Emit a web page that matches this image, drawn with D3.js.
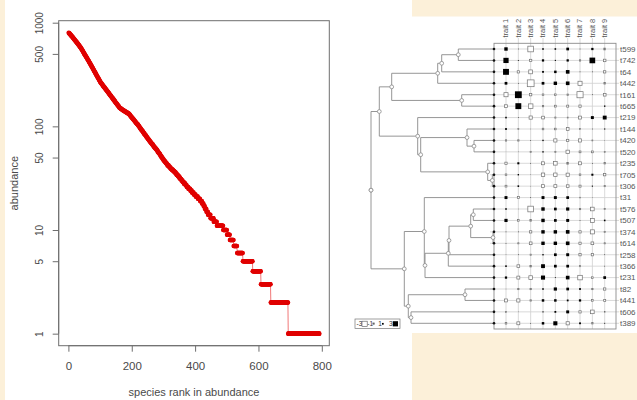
<!DOCTYPE html>
<html><head><meta charset="utf-8">
<script src="https://cdn.jsdelivr.net/npm/d3@7/dist/d3.min.js"></script>
<style>
html,body{margin:0;padding:0;background:#fff;}
svg{display:block;font-family:"Liberation Sans",Arial,sans-serif;}
</style></head>
<body><svg id="c" width="637" height="400"></svg>
<script>
// ---------------- DATA ----------------
// rank-abundance: abundances for the most common species (rank 1..401)
const abundanceTop = [
800,794,788,781,775,769,763,757,750,744,
738,732,726,719,713,707,701,695,688,682,
676,670,665,659,653,648,642,636,630,625,
619,613,607,601,595,590,584,578,572,566,
560,554,547,541,535,528,522,516,510,503,
497,491,486,480,475,469,464,458,453,447,
442,437,432,427,422,416,411,406,401,396,
391,386,382,377,372,368,363,358,353,349,
344,340,336,332,328,324,319,315,311,307,
303,299,296,292,289,285,281,278,274,271,
267,265,262,260,257,255,253,250,248,245,
243,241,239,237,235,232,230,228,226,224,
222,220,218,216,214,212,210,208,206,204,
202,200,198,197,195,193,191,189,188,186,
184,182,181,179,177,176,174,172,170,169,
167,166,164,163,161,160,158,157,155,154,
152,151,150,150,149,148,147,146,146,145,
144,143,143,142,142,141,140,140,139,139,
138,137,137,136,136,135,134,134,133,133,
132,131,130,129,128,126,125,124,123,122,
121,120,119,118,117,116,115,114,113,112,
111,110,109,108,107,106,106,105,104,103,
102,101,100,99,98,97,96,95,94,93,
92,91,91,90,89,88,87,86,85,85,
84,83,82,82,81,80,79,78,78,77,
76,75,75,74,73,73,72,71,71,70,
69,69,68,68,67,67,66,65,65,64,
63,63,62,62,61,61,60,60,59,59,
58,57,57,56,56,55,55,54,54,53,
52,52,51,51,50,50,49,49,48,48,
47,47,46,46,46,45,45,44,44,44,
43,43,42,42,42,42,41,41,41,40,
40,40,39,39,39,39,38,38,38,38,
37,37,37,37,36,36,36,36,35,35,
35,34,34,34,34,33,33,33,33,32,
32,32,31,31,31,31,30,30,30,30,
29,29,29,29,28,28,28,28,28,27,
27,27,27,26,26,26,26,26,25,25,
25,25,25,25,24,24,24,24,24,23,
23,23,23,23,23,22,22,22,22,22,
22];
// rare species: abundance level and number of species at that level
const tailLevels = [21,20,19,18,17,16,15,14,13,12,11,10,9,8,7,6,5,4,3,2,1];
const tailCounts = [7,7,6,5,4,5,5,8,10,10,20,12,9,12,11,18,31,26,31,55,99];
const xTicks = [0,200,400,600,800];
const yTicks = [1,5,10,50,100,500,1000];

// phylogeny (Newick, branch lengths) and traits
const treeNewick = "(((((((t599:35.7,t742:35.7):16.6,t64:52.3):4,t442:56.3):46,(t161:32.3,t665:32.3):70):12.4,(t219:76.3,((t144:27,(t420:20,t520:20):7):46.3,(t235:6.3,(t705:1.7,t306:1.7):4.6):67):3):38.4):8.3,((t31:69.7,(((((t576:20.7,t507:20.7):2.6,(t374:1,t614:1):22.3):21.7,t258:45):0.7,t366:45.7):23.3,t231:69):0.7):20,((t82:29,t441:29):56.7,(t606:83,t389:83):2.7):4):33.3);";
const traitNames = ["trait 1","trait 2","trait 3","trait 4","trait 5","trait 6","trait 7","trait 8","trait 9"];
const tipNames = ["t599","t742","t64","t442","t161","t665","t219","t144","t420","t520","t235","t705","t306","t31","t576","t507","t374","t614","t258","t366","t231","t82","t441","t606","t389"];
const traitValues = [
 [ 1.5, 0.3,-2.5, 0.7, 0.7, 1.2, 0.3, 1.0,-0.8],
 [ 2.3, 0.4,-1.0, 1.0, 0.5, 1.0,-0.6, 2.5,-1.1],
 [ 2.6,-1.0,-1.7, 0.8, 1.1, 1.6, 0.3, 0.3,-1.0],
 [ 1.2, 0.3,-3.0, 1.2, 1.5, 1.6,-1.8, 0.0,-0.7],
 [-1.8, 3.0,-1.0,-0.7,-0.7,-0.6,-2.7, 0.3,-1.2],
 [-1.2, 2.6,-2.0,-0.6,-0.8,-0.9,-1.0, 0.0, 0.6],
 [ 0.7, 0.3,-1.4,-1.2,-0.5,-0.4,-1.3, 1.3, 1.7],
 [ 0.8,-0.4, 0.2,-0.7,-0.7,-1.2,-0.4, 0.3, 0.5],
 [-0.6,-0.6, 0.3, 0.6,-1.4,-1.0,-1.4,-0.4, 0.2],
 [ 0.1, 0.2,-0.5, 0.6,-0.5,-1.5,-0.8,-0.8,-0.4],
 [-1.0, 0.9, 0.3,-1.3,-1.6,-0.8,-1.3, 0.3,-0.6],
 [-0.7, 0.6, 0.2,-1.5,-1.5,-1.4,-0.7, 0.9,-1.0],
 [-0.8, 0.7, 0.2,-1.3,-1.3,-1.2,-0.9, 0.5,-0.5],
 [ 1.3,-0.9, 0.3, 1.3, 1.3, 1.2,-0.3, 0.2, 0.0],
 [ 0.7, 0.2,-2.5, 1.5, 1.2, 1.4,-0.6,-1.6,-0.5],
 [ 1.4,-0.7,-0.7, 1.5, 1.2, 1.3, 0.3,-1.7, 0.7],
 [ 0.3, 0.3,-1.0, 1.5, 1.5, 1.6,-1.0,-1.8,-0.5],
 [ 0.3,-0.5,-1.2, 1.5, 1.5, 1.6,-1.0,-1.2,-0.5],
 [ 0.2, 0.3,-0.5, 0.6, 1.2, 1.3,-1.0,-1.0, 0.3],
 [ 0.7,-1.2,-0.7, 1.7, 1.2, 1.2,-0.5, 0.0, 0.3],
 [ 1.0,-1.3,-1.6, 1.8, 0.4, 1.6,-2.0,-0.7, 1.2],
 [ 0.2,-0.6,-0.6, 0.7, 1.4, 1.2, 0.8,-0.6,-1.0],
 [-1.3,-1.4,-0.6, 1.1, 1.1, 0.8, 1.0,-0.7,-0.9],
 [-0.4, 0.2, 0.0, 0.5, 0.8, 1.3,-1.0,-1.6,-0.3],
 [-0.7,-1.3, 0.3, 1.1, 1.8,-1.4, 0.8,-0.6, 0.4]
];
const legendValues = [-3,-1,1,3];

// ---------------- DRAWING ----------------
const svg = d3.select("#c");
const beige = "#fcf0d9";
svg.append("rect").attr("x",0).attr("y",0).attr("width",637).attr("height",400).attr("fill","#fff");
svg.append("rect").attr("x",0).attr("y",0).attr("width",5).attr("height",400).attr("fill",beige);
svg.append("rect").attr("x",412).attr("y",0).attr("width",225).attr("height",16.5).attr("fill",beige);
svg.append("rect").attr("x",412).attr("y",333).attr("width",225).attr("height",67).attr("fill",beige);

// ---- left panel: rank abundance ----
const abund = abundanceTop.slice();
tailLevels.forEach((lv,i)=>{ for(let k=0;k<tailCounts[i];k++) abund.push(lv); });
const pts = abund.map((a,i)=>({rank:i+1, ab:a}));
const L = {x0:58.7, x1:329.3, y0:20.7, y1:345.7};
const n = pts.length;
const xr = n-1, xpad = xr*0.04;
const x = d3.scaleLinear().domain([1-xpad, n+xpad]).range([L.x0, L.x1]);
const lmax = Math.log10(d3.max(abund)), lpad = lmax*0.04;
const y = d3.scaleLog().domain([Math.pow(10,-lpad), Math.pow(10,lmax+lpad)]).range([L.y1, L.y0]);
const axCol = "#6e6e6e", txtCol = "#4a4a4a";

const gL = svg.append("g");
gL.append("path").datum(pts)
  .attr("d", d3.line().x(d=>x(d.rank)).y(d=>y(d.ab)))
  .attr("fill","none").attr("stroke","#e55").attr("stroke-width",0.8);
gL.selectAll("circle.p").data(pts).join("circle").attr("class","p")
  .attr("cx",d=>x(d.rank)).attr("cy",d=>y(d.ab)).attr("r",2.3).attr("fill","#e00000");
gL.append("rect").attr("x",L.x0).attr("y",L.y0).attr("width",L.x1-L.x0).attr("height",L.y1-L.y0)
  .attr("fill","none").attr("stroke",axCol).attr("stroke-width",1);

const xa = gL.append("g").attr("transform",`translate(0,${L.y1})`)
  .call(d3.axisBottom(x).tickValues(xTicks).tickSize(6).tickPadding(10).tickFormat(d3.format("d")));
xa.select(".domain").remove();
xa.selectAll("line").attr("stroke",axCol);
xa.selectAll("text").attr("fill",txtCol).style("font-size","11.5px").attr("font-family","Liberation Sans, Arial, sans-serif");
gL.append("line").attr("x1",x(xTicks[0])).attr("x2",x(xTicks[xTicks.length-1])).attr("y1",L.y1).attr("y2",L.y1).attr("stroke",axCol);

const ya = gL.append("g").attr("transform",`translate(${L.x0},0)`)
  .call(d3.axisLeft(y).tickValues(yTicks).tickSize(6).tickFormat(d3.format("d")));
ya.select(".domain").remove();
ya.selectAll("line").attr("stroke",axCol);
ya.selectAll("text").attr("fill",txtCol).style("font-size","10px").attr("font-family","Liberation Sans, Arial, sans-serif")
  .attr("x",null).attr("dy",null).attr("text-anchor","middle")
  .attr("transform","translate(-15.4,0) rotate(-90)");
gL.append("line").attr("x1",L.x0).attr("x2",L.x0).attr("y1",y(yTicks[0])).attr("y2",y(yTicks[yTicks.length-1])).attr("stroke",axCol);

gL.append("text").attr("x",(L.x0+L.x1)/2).attr("y",395.5).attr("text-anchor","middle")
  .attr("fill",txtCol).style("font-size","11px").text("species rank in abundance");
gL.append("text").attr("transform",`translate(18.3,${(L.y0+L.y1)/2}) rotate(-90)`).attr("text-anchor","middle")
  .attr("fill",txtCol).style("font-size","11px").text("abundance");

// ---- right panel: phylogeny + trait table ----
function parseNewick(s){
  let i=0;
  function node(){
    const nd={children:[]};
    if(s[i]==="("){
      i++;
      nd.children.push(node());
      while(s[i]===","){ i++; nd.children.push(node()); }
      i++; // ')'
    }
    let name=""; while(i<s.length && !":,();".includes(s[i])) name+=s[i++];
    nd.name=name;
    nd.length=0;
    if(s[i]===":"){ i++; let num=""; while(i<s.length && !",();".includes(s[i])) num+=s[i++]; nd.length=+num; }
    if(!nd.children.length) delete nd.children;
    return nd;
  }
  return node();
}
const root = d3.hierarchy(parseNewick(treeNewick));
root.each(d=>{ d.depthLen = d.parent ? d.parent.depthLen + d.data.length : 0; });
const maxDepth = d3.max(root.leaves(), d=>d.depthLen);

const T = {x0:494, x1:616, y0:43.3, y1:329};
const rowY = d3.scalePoint().domain(tipNames).range([49, 323.3]);
const colX = d3.scalePoint().domain(traitNames).range([506, 604.7]);
const tx = d3.scaleLinear().domain([0, maxDepth]).range([371, T.x0]);

root.eachAfter(d=>{
  if(!d.children) d.py = rowY(d.data.name);
  else d.py = (d.children[0].py + d.children[d.children.length-1].py)/2;
  d.px = tx(d.depthLen);
});

const gR = svg.append("g");
const treeCol = "#8a8a8a", gridCol = "#cfcfcf";
// grid
gR.selectAll("line.row").data(tipNames).join("line").attr("class","row")
  .attr("x1",490).attr("x2",619).attr("y1",d=>rowY(d)).attr("y2",d=>rowY(d))
  .attr("stroke",gridCol).attr("stroke-width",0.8);
gR.selectAll("line.col").data(traitNames).join("line").attr("class","col")
  .attr("x1",d=>colX(d)).attr("x2",d=>colX(d)).attr("y1",38).attr("y2",T.y1)
  .attr("stroke",gridCol).attr("stroke-width",0.8);
gR.append("rect").attr("x",T.x0).attr("y",T.y0).attr("width",T.x1-T.x0).attr("height",T.y1-T.y0)
  .attr("fill","none").attr("stroke","#8c8c8c").attr("stroke-width",0.9);

// tree edges
const inner = root.descendants().filter(d=>d.children);
gR.selectAll("line.v").data(inner).join("line").attr("class","v")
  .attr("x1",d=>d.px).attr("x2",d=>d.px)
  .attr("y1",d=>d.children[0].py).attr("y2",d=>d.children[d.children.length-1].py)
  .attr("stroke",treeCol).attr("stroke-width",0.9);
gR.selectAll("line.h").data(root.descendants().filter(d=>d.parent)).join("line").attr("class","h")
  .attr("x1",d=>d.parent.px).attr("x2",d=>d.px).attr("y1",d=>d.py).attr("y2",d=>d.py)
  .attr("stroke",treeCol).attr("stroke-width",0.9);
gR.selectAll("circle.nd").data(inner).join("circle").attr("class","nd")
  .attr("cx",d=>d.px).attr("cy",d=>d.py).attr("r",1.9)
  .attr("fill","#fff").attr("stroke",treeCol).attr("stroke-width",0.8);
gR.selectAll("circle.tip").data(root.leaves()).join("circle").attr("class","tip")
  .attr("cx",d=>d.px).attr("cy",d=>d.py).attr("r",1.3).attr("fill","#111");

// trait squares
const sz = d3.scaleLinear().domain([0,3]).range([0,6.8]);
const cells = [];
tipNames.forEach((t,i)=>traitNames.forEach((tr,j)=>cells.push({t,tr,v:traitValues[i][j]})));
gR.selectAll("rect.cell").data(cells.filter(c=>c.v!==0)).join("rect").attr("class","cell")
  .attr("x",d=>colX(d.tr)-sz(Math.abs(d.v))/2).attr("y",d=>rowY(d.t)-sz(Math.abs(d.v))/2)
  .attr("width",d=>sz(Math.abs(d.v))).attr("height",d=>sz(Math.abs(d.v)))
  .attr("fill",d=>d.v>0?"#000":"#fff").attr("stroke",d=>d.v>0?"none":"#707070").attr("stroke-width",0.7);

// labels
gR.selectAll("text.tip").data(tipNames).join("text").attr("class","tip")
  .attr("x",620).attr("y",d=>rowY(d)).attr("dy","0.35em")
  .attr("fill","#555").style("font-size","8px").text(d=>d);
gR.selectAll("text.tr").data(traitNames).join("text").attr("class","tr")
  .attr("transform",d=>`translate(${colX(d)+2.3},37.5) rotate(-90)`)
  .attr("fill","#555").style("font-size","7.5px").text(d=>d);

// legend
const lg = gR.append("g");
lg.append("rect").attr("x",355).attr("y",319).attr("width",45).attr("height",9.5)
  .attr("fill","#fff").attr("stroke","#777").attr("stroke-width",0.7);
const lsz = d3.scaleLinear().domain([0,3]).range([0,5.2]);
const lx = d3.scalePoint().domain(legendValues).range([356.5, 389]);
lg.selectAll("text").data(legendValues).join("text")
  .attr("x",d=>lx(d)).attr("y",323.8).attr("dy","0.35em")
  .attr("fill","#333").style("font-size","6.5px").text(d=>d);
lg.selectAll("rect.ls").data(legendValues).join("rect").attr("class","ls")
  .attr("x",d=>lx(d)+(d<0?5.5:3.8)).attr("y",d=>323.8-lsz(Math.abs(d))/2)
  .attr("width",d=>lsz(Math.abs(d))).attr("height",d=>lsz(Math.abs(d)))
  .attr("fill",d=>d>0?"#000":"#fff").attr("stroke",d=>d>0?"none":"#555").attr("stroke-width",0.6);
</script></body></html>
